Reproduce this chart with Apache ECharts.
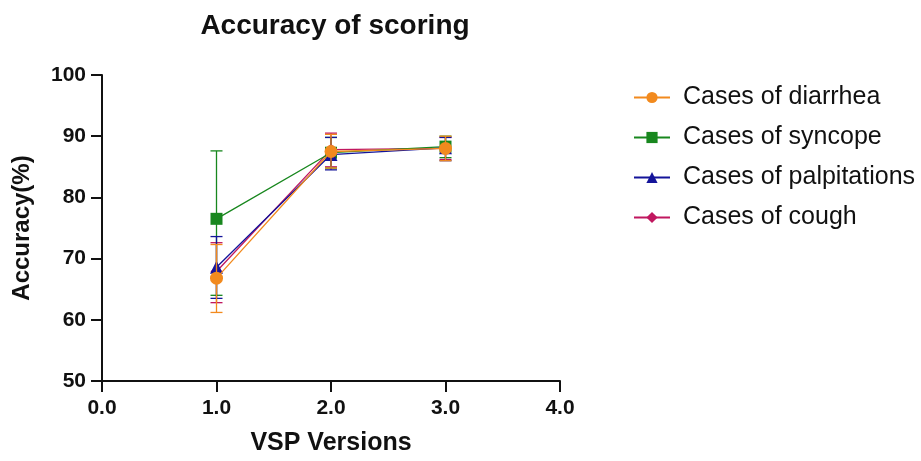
<!DOCTYPE html>
<html>
<head>
<meta charset="utf-8">
<script src="https://cdn.jsdelivr.net/npm/echarts@6/dist/echarts.min.js"></script>
<style>
html,body{margin:0;padding:0;background:#fff;}
#c{width:921px;height:461px;}
</style>
</head>
<body>
<div id="c"></div>
<script>
// Data
const versions = [1, 2, 3];
const seriesNames = ['Cases of diarrhea', 'Cases of syncope', 'Cases of palpitations', 'Cases of cough'];
const diarrheaMean = [66.8, 87.5, 88.0];
const diarrheaLow  = [61.2, 84.8, 86.0];
const diarrheaHigh = [72.3, 90.3, 90.0];
const syncopeMean = [76.5, 87.3, 88.3];
const syncopeLow  = [64.0, 84.8, 86.5];
const syncopeHigh = [87.6, 89.8, 90.0];
const palpMean = [68.6, 87.0, 88.1];
const palpLow  = [63.5, 84.5, 86.0];
const palpHigh = [73.6, 89.8, 89.8];
const coughMean = [67.9, 87.8, 88.0];
const coughLow  = [62.8, 85.0, 86.2];
const coughHigh = [72.6, 90.5, 89.8];
const yTicks = [50, 60, 70, 80, 90, 100];
const xTicks = [0, 1, 2, 3, 4];

const colors = ['#F28A1E', '#18871E', '#14149A', '#C0175F'];
const symbols = ['circle', 'rect', 'triangle', 'diamond'];
const means = [diarrheaMean, syncopeMean, palpMean, coughMean];
const lows = [diarrheaLow, syncopeLow, palpLow, coughLow];
const highs = [diarrheaHigh, syncopeHigh, palpHigh, coughHigh];
const symSizes = [13, 12, 13, 12];
const zs = [8, 5, 6, 4];

const series = [];
for (let i = 0; i < 4; i++) {
  series.push({
    name: 'err' + i,
    type: 'custom',
    z: zs[i] - 1,
    silent: true,
    data: versions.map((v, k) => [v, lows[i][k], highs[i][k]]),
    renderItem: function (params, api) {
      const x = api.value(0);
      const lo = api.coord([x, api.value(1)]);
      const hi = api.coord([x, api.value(2)]);
      const hw = 6;
      const st = { stroke: colors[i], lineWidth: 1.3 };
      return {
        type: 'group',
        children: [
          { type: 'line', shape: { x1: lo[0], y1: lo[1], x2: hi[0], y2: hi[1] }, style: st },
          { type: 'line', shape: { x1: lo[0] - hw, y1: lo[1], x2: lo[0] + hw, y2: lo[1] }, style: st },
          { type: 'line', shape: { x1: hi[0] - hw, y1: hi[1], x2: hi[0] + hw, y2: hi[1] }, style: st }
        ]
      };
    }
  });
  series.push({
    name: seriesNames[i],
    type: 'line',
    z: zs[i],
    data: versions.map((v, k) => [v, means[i][k]]),
    symbol: symbols[i],
    symbolSize: symSizes[i],
    showAllSymbol: true,
    lineStyle: { color: colors[i], width: 1.3 },
    itemStyle: { color: colors[i], borderWidth: 0 },
    emphasis: { disabled: true },
    animation: false
  });
}

const chart = echarts.init(document.getElementById('c'), null, { renderer: 'canvas' });
chart.setOption({
  animation: false,
  backgroundColor: '#ffffff',
  color: colors,
  title: {
    text: 'Accuracy of scoring',
    left: 330, top: 7, textAlign: 'center',
    textStyle: { fontFamily: 'Liberation Sans', fontWeight: 'bold', fontSize: 28, color: '#111' }
  },
  legend: {
    data: seriesNames,
    orient: 'vertical',
    left: 628, top: 80,
    itemWidth: 36, itemHeight: 14,
    itemGap: 15,
    textStyle: { fontFamily: 'Liberation Sans', fontSize: 25, color: '#111', padding: [0, 0, 0, 8] }
  },
  grid: { left: 102, right: 361, top: 75, bottom: 80, containLabel: false },
  xAxis: {
    type: 'value', min: 0, max: 4, interval: 1,
    name: 'VSP Versions', nameLocation: 'middle', nameGap: 50,
    nameTextStyle: { fontFamily: 'Liberation Sans', fontWeight: 'bold', fontSize: 25, color: '#111' },
    axisLine: { show: true, onZero: false, lineStyle: { color: '#111', width: 2 } },
    axisTick: { show: true, length: 11, lineStyle: { color: '#111', width: 2 } },
    axisLabel: { formatter: v => v.toFixed(1), margin: 17, fontFamily: 'Liberation Sans', fontWeight: 'bold', fontSize: 21, color: '#111' },
    splitLine: { show: false }
  },
  yAxis: {
    type: 'value', min: 50, max: 100, interval: 10,
    name: 'Accuracy(%)', nameLocation: 'middle', nameGap: 68, nameRotate: 90,
    nameTextStyle: { fontFamily: 'Liberation Sans', fontWeight: 'bold', fontSize: 24, color: '#111' },
    axisLine: { show: true, onZero: false, lineStyle: { color: '#111', width: 2 } },
    axisTick: { show: true, length: 11, lineStyle: { color: '#111', width: 2 } },
    axisLabel: { margin: 16, fontFamily: 'Liberation Sans', fontWeight: 'bold', fontSize: 21, color: '#111' },
    splitLine: { show: false }
  },
  series: series
});
</script>
</body>
</html>
